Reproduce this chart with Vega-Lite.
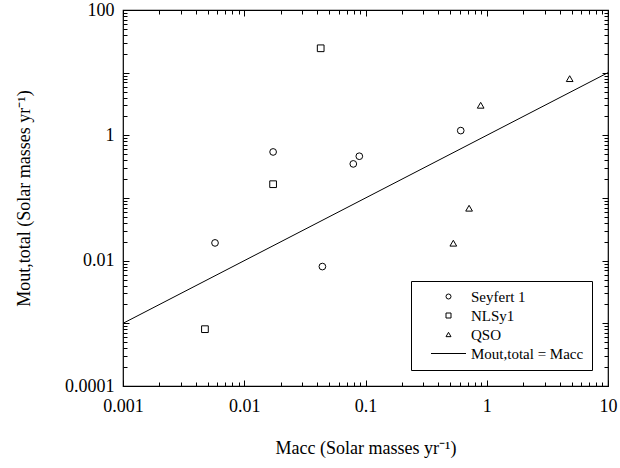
{
  "$schema": "https://vega.github.io/schema/vega-lite/v6.json",
  "width": 485,
  "height": 376,
  "autosize": "none",
  "padding": {"left": 123, "top": 10, "right": 12, "bottom": 82},
  "config": {
    "view": {"stroke": "black", "strokeWidth": 1.2},
    "font": "Liberation Serif",
    "axis": {
      "grid": false,
      "domain": false,
      "labelFont": "Liberation Serif",
      "titleFont": "Liberation Serif",
      "labelFontSize": 18,
      "titleFontSize": 18,
      "titleFontWeight": "normal",
      "labelColor": "black",
      "titleColor": "black",
      "tickColor": "black",
      "tickWidth": 1,
      "labelOverlap": false,
      "labelFlush": false,
      "labelBound": false
    },
    "legend": {
      "labelFont": "Liberation Serif",
      "labelFontSize": 15,
      "labelColor": "black"
    }
  },
  "layer": [
    {
      "encoding": {
        "x": {
          "field": "Macc",
          "type": "quantitative",
          "scale": {"type": "log", "domain": [0.001, 10], "nice": false},
          "axis": {
            "orient": "bottom",
            "title": "Macc (Solar masses yr⁻¹)",
            "titlePadding": 22,
            "labelPadding": 17,
            "labelFont": "Liberation Serif",
            "labelFontSize": 18,
            "titleFont": "Liberation Serif",
            "format": "~g",
            "values": [0.001,0.002,0.003,0.004,0.005,0.006,0.007,0.008,0.009,0.01,0.02,0.03,0.04,0.05,0.06,0.07,0.08,0.09,0.1,0.2,0.3,0.4,0.5,0.6,0.7,0.8,0.9,1,2,3,4,5,6,7,8,9,10],
            "labelExpr": "indexof([0.001,0.01,0.1,1,10], datum.value) >= 0 ? datum.label : ''",
            "tickSize": {"condition": {"test": "indexof([0.001,0.01,0.1,1,10], datum.value) >= 0", "value": -6}, "value": -4}
          }
        },
        "y": {
          "field": "Mout",
          "type": "quantitative",
          "scale": {"type": "log", "domain": [0.0001, 100], "nice": false},
          "axis": {
            "orient": "left",
            "title": "Mout,total (Solar masses yr⁻¹)",
            "titlePadding": 31,
            "labelPadding": 15,
            "labelFont": "Liberation Serif",
            "labelFontSize": 18,
            "titleFont": "Liberation Serif",
            "format": "~g",
            "values": [0.0001,0.0002,0.0003,0.0004,0.0005,0.0006,0.0007,0.0008,0.0009,0.001,0.002,0.003,0.004,0.005,0.006,0.007,0.008,0.009,0.01,0.02,0.03,0.04,0.05,0.06,0.07,0.08,0.09,0.1,0.2,0.3,0.4,0.5,0.6,0.7,0.8,0.9,1,2,3,4,5,6,7,8,9,10,20,30,40,50,60,70,80,90,100],
            "labelExpr": "indexof([0.0001,0.01,1,100], datum.value) >= 0 ? datum.label : ''",
            "tickSize": {"condition": {"test": "indexof([0.0001,0.001,0.01,0.1,1,10,100], datum.value) >= 0", "value": -6}, "value": -4}
          }
        }
      },
      "layer": [
        {
          "data": {
            "values": [
              {"series": "Seyfert 1", "Macc": 0.00574, "Mout": 0.0192},
              {"series": "Seyfert 1", "Macc": 0.0173, "Mout": 0.543},
              {"series": "Seyfert 1", "Macc": 0.0793, "Mout": 0.35},
              {"series": "Seyfert 1", "Macc": 0.0889, "Mout": 0.464},
              {"series": "Seyfert 1", "Macc": 0.61, "Mout": 1.19},
              {"series": "Seyfert 1", "Macc": 0.0441, "Mout": 0.00805},
              {"series": "NLSy1", "Macc": 0.0427, "Mout": 24.5},
              {"series": "NLSy1", "Macc": 0.0173, "Mout": 0.166},
              {"series": "NLSy1", "Macc": 0.00474, "Mout": 0.000807},
              {"series": "QSO", "Macc": 4.83, "Mout": 8.03},
              {"series": "QSO", "Macc": 0.891, "Mout": 3.02},
              {"series": "QSO", "Macc": 0.715, "Mout": 0.0687},
              {"series": "QSO", "Macc": 0.53, "Mout": 0.019}
            ]
          },
          "mark": {"type": "point", "filled": false, "stroke": "black", "strokeWidth": 1, "size": 45, "opacity": 1},
          "encoding": {
            "shape": {
              "field": "series",
              "type": "nominal",
              "scale": {
                "domain": ["Seyfert 1", "NLSy1", "QSO", "Mout,total = Macc"],
                "range": ["circle", "square", "triangle-up", "M-7,0H7"]
              },
              "legend": {
                "title": null,
                "orient": "bottom-right",
                "offset": 16,
                "strokeColor": "black",
                "fillColor": "white",
                "cornerRadius": 0,
                "padding": 8,
                "symbolSize": 25,
                "symbolStrokeColor": "black",
                "symbolStrokeWidth": 1,
                "symbolFillColor": "transparent",
                "symbolOpacity": 1,
                "symbolOffset": 22,
                "labelOffset": 15,
                "labelFont": "Liberation Serif",
                "labelFontSize": 15,
                "rowPadding": 3
              }
            }
          }
        },
        {
          "data": {
            "values": [
              {"Macc": 0.001, "Mout": 0.001},
              {"Macc": 10, "Mout": 10}
            ]
          },
          "mark": {"type": "line", "color": "black", "strokeWidth": 1},
          "encoding": {}
        }
      ]
    },
    {
      "data": {
        "values": [
          {"Macc": 0.001, "Mout": 0.001},
          {"Macc": 10, "Mout": 10}
        ]
      },
      "mark": {"type": "point", "opacity": 0},
      "encoding": {
        "x": {
          "field": "Macc",
          "type": "quantitative",
          "scale": {"type": "log", "domain": [0.001, 10], "nice": false},
          "axis": {
            "orient": "top",
            "title": null,
            "labels": false,
            "values": [0.001,0.002,0.003,0.004,0.005,0.006,0.007,0.008,0.009,0.01,0.02,0.03,0.04,0.05,0.06,0.07,0.08,0.09,0.1,0.2,0.3,0.4,0.5,0.6,0.7,0.8,0.9,1,2,3,4,5,6,7,8,9,10],
            "tickSize": {"condition": {"test": "indexof([0.001,0.01,0.1,1,10], datum.value) >= 0", "value": -6}, "value": -4}
          }
        },
        "y": {
          "field": "Mout",
          "type": "quantitative",
          "scale": {"type": "log", "domain": [0.0001, 100], "nice": false},
          "axis": {
            "orient": "right",
            "title": null,
            "labels": false,
            "values": [0.0001,0.0002,0.0003,0.0004,0.0005,0.0006,0.0007,0.0008,0.0009,0.001,0.002,0.003,0.004,0.005,0.006,0.007,0.008,0.009,0.01,0.02,0.03,0.04,0.05,0.06,0.07,0.08,0.09,0.1,0.2,0.3,0.4,0.5,0.6,0.7,0.8,0.9,1,2,3,4,5,6,7,8,9,10,20,30,40,50,60,70,80,90,100],
            "tickSize": {"condition": {"test": "indexof([0.0001,0.001,0.01,0.1,1,10,100], datum.value) >= 0", "value": -6}, "value": -4}
          }
        }
      }
    }
  ],
  "resolve": {"scale": {"x": "independent", "y": "independent"}}
}
